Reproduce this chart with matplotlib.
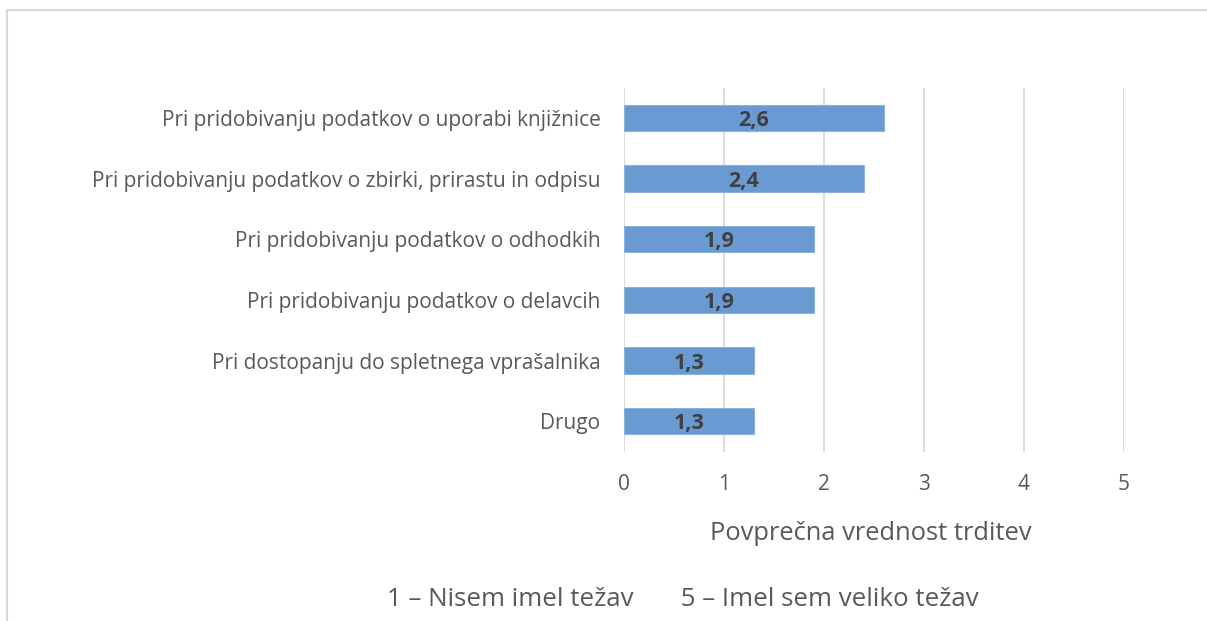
import matplotlib.pyplot as plt

# data
categories = [
    "Pri pridobivanju podatkov o uporabi knjižnice",
    "Pri pridobivanju podatkov o zbirki, prirastu in odpisu",
    "Pri pridobivanju podatkov o odhodkih",
    "Pri pridobivanju podatkov o delavcih",
    "Pri dostopanju do spletnega vprašalnika",
    "Drugo",
]
values = [2.6, 2.4, 1.9, 1.9, 1.3, 1.3]
value_labels = ["2,6", "2,4", "1,9", "1,9", "1,3", "1,3"]
x_ticks = [0, 1, 2, 3, 4, 5]

plt.rcParams["font.family"] = ["Open Sans", "DejaVu Sans"]
text_grey = "#595959"

fig = plt.figure(figsize=(12.07, 6.21), dpi=100)
W, H = 1207, 621
ax = fig.add_axes([624 / W, 1 - 451.5 / H, 500 / W, (451.5 - 87.5) / H])

# bars, top category first
ypos = list(range(len(categories)))[::-1]
ax.barh(ypos, values, height=0.43, color="#6A9AD2", edgecolor="#8DB1DD",
        linewidth=0.8, zorder=3)

for y, v, lab in zip(ypos, values, value_labels):
    ax.text(v / 2, y, lab, ha="center", va="center_baseline", fontsize=15.5,
            fontweight="bold", color="#404040", zorder=4)

ax.set_xlim(0, 5)
ax.set_ylim(-0.5, len(categories) - 0.5)
ax.set_xticks(x_ticks)
ax.set_xticklabels([str(t) for t in x_ticks])
ax.set_yticks(ypos)
ax.set_yticklabels(categories)
ax.tick_params(axis="both", length=0, labelsize=15, colors=text_grey)
ax.tick_params(axis="x", pad=16)
ax.tick_params(axis="y", pad=17)
ax.xaxis.grid(True, color="#D9D9D9", linewidth=1.3, zorder=0)
for s in ax.spines.values():
    s.set_visible(False)

# axis title and footnote
fig.text(871 / W, 1 - 533 / H, "Povprečna vrednost trditev", ha="center",
         va="center", fontsize=18.4, color=text_grey)
fig.text(683 / W, 1 - 599 / H, "1 – Nisem imel težav       5 – Imel sem veliko težav",
         ha="center", va="center", fontsize=18.6, color=text_grey)

# chart border (top and left edges visible)
fig.add_artist(plt.Line2D([7 / W, 1], [1 - 10 / H, 1 - 10 / H],
                          transform=fig.transFigure, color="#D9D9D9", linewidth=1.5))
fig.add_artist(plt.Line2D([7 / W, 7 / W], [0, 1 - 10 / H],
                          transform=fig.transFigure, color="#D9D9D9", linewidth=1.5))

plt.savefig("out.png", dpi=100)
